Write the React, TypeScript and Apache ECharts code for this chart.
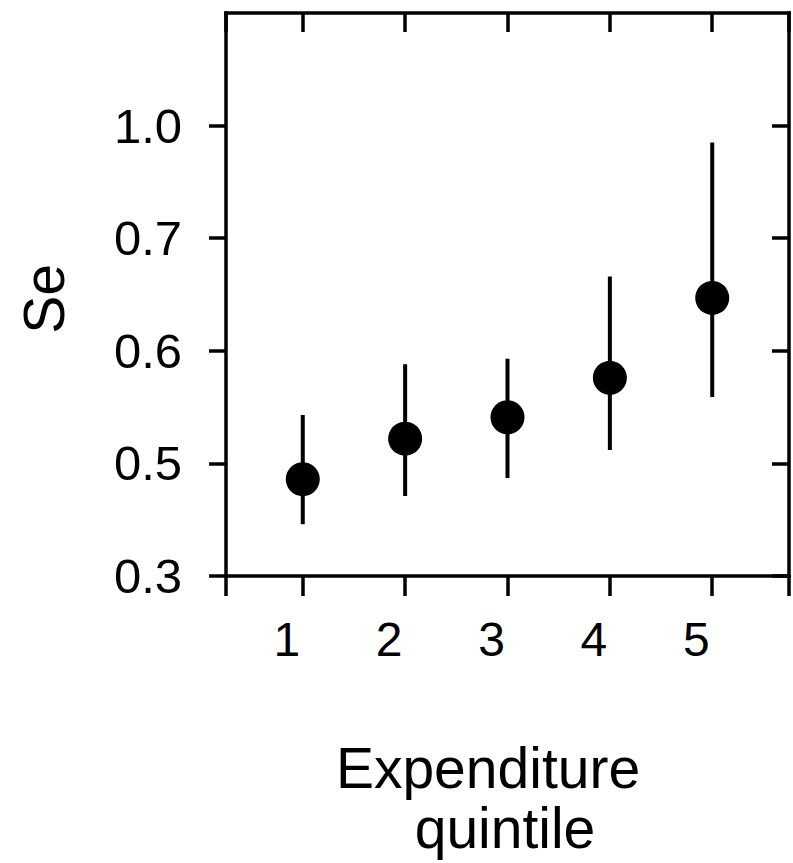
import React, { useEffect, useRef } from "react";
import * as echarts from "echarts";

const quintiles = [1, 2, 3, 4, 5];
const seMean = [0.472, 0.522, 0.541, 0.576, 0.647];
const seLow = [0.392, 0.442, 0.474, 0.512, 0.559];
const seHigh = [0.543, 0.588, 0.593, 0.666, 0.955];
const yTickLabels = [0.3, 0.5, 0.6, 0.7, 1.0];
const xTickLabels = ["1", "2", "3", "4", "5"];
const xTickPositions = [0.25, 1, 2, 3, 4, 5, 5.75];
const xTitle1 = "Expenditure";
const xTitle2 = "quintile";
const yTitle = "Se";

// piecewise-linear position of a value on the (irregular) y scale
function toPos(v: number): number {
  const t = yTickLabels;
  for (let i = 0; i < t.length - 1; i++) {
    if (v <= t[i + 1] || i === t.length - 2) {
      return i + (v - t[i]) / (t[i + 1] - t[i]);
    }
  }
  return 0;
}

const FONT = "Liberation Sans, Arial, sans-serif";

function mkLine() {
  return { show: true, onZero: false, lineStyle: { color: "#000", width: 3.5, cap: "square" } };
}
function mkTick() {
  return { color: "#000", width: 3.5 };
}

export default function App() {
  const ref = useRef<HTMLDivElement>(null);
  useEffect(() => {
    document.body.style.margin = "0";
    const chart = echarts.init(ref.current!, undefined, { renderer: "svg" });
    chart.setOption({
      animation: false,
      backgroundColor: "#fff",
      grid: { left: 226, top: 13, width: 563, height: 563, containLabel: false },
      xAxis: [
        {
          type: "value",
          position: "bottom",
          min: 0.25,
          max: 5.75,
          axisLine: mkLine(),
          splitLine: { show: false },
          axisTick: {
            show: true,
            inside: false,
            length: 20,
            lineStyle: mkTick(),
            customValues: xTickPositions,
          },
          axisLabel: {
            show: true,
            customValues: quintiles,
            margin: 39,
            formatter: (v: number) => `{a|${xTickLabels[Math.round(v) - 1]}}`,
            rich: {
              a: {
                fontSize: 48,
                fontFamily: FONT,
                color: "#000",
                padding: [0, 32, 0, 0],
              },
            },
          },
        },
        {
          type: "value",
          position: "top",
          min: 0.25,
          max: 5.75,
          axisLine: mkLine(),
          splitLine: { show: false },
          axisTick: {
            show: true,
            inside: true,
            length: 19,
            lineStyle: mkTick(),
            customValues: xTickPositions,
          },
          axisLabel: { show: false },
        },
      ],
      yAxis: [
        {
          type: "value",
          position: "left",
          min: 0,
          max: 5,
          axisLine: mkLine(),
          splitLine: { show: false },
          axisTick: {
            show: true,
            inside: false,
            length: 17,
            lineStyle: mkTick(),
            customValues: [0, 1, 2, 3, 4],
          },
          axisLabel: {
            show: true,
            customValues: [0, 1, 2, 3, 4],
            margin: 44,
            fontSize: 49,
            fontFamily: FONT,
            color: "#000",
            formatter: (v: number) => yTickLabels[Math.round(v)].toFixed(1),
          },
        },
        {
          type: "value",
          position: "right",
          min: 0,
          max: 5,
          axisLine: mkLine(),
          splitLine: { show: false },
          axisTick: {
            show: true,
            inside: true,
            length: 17,
            lineStyle: mkTick(),
            customValues: [0, 1, 2, 3, 4],
          },
          axisLabel: { show: false },
        },
      ],
      series: [
        {
          type: "custom",
          xAxisIndex: 0,
          yAxisIndex: 0,
          encode: { x: 0, y: [1, 2] },
          data: quintiles.map((q, i) => [q, toPos(seLow[i]), toPos(seHigh[i])]),
          renderItem: (_params: any, api: any) => {
            const x = api.value(0);
            const p1 = api.coord([x, api.value(1)]);
            const p2 = api.coord([x, api.value(2)]);
            return {
              type: "line",
              shape: { x1: p1[0], y1: p1[1], x2: p2[0], y2: p2[1] },
              style: { stroke: "#000", lineWidth: 4 },
            };
          },
          z: 2,
        },
        {
          type: "scatter",
          xAxisIndex: 0,
          yAxisIndex: 0,
          symbol: "circle",
          symbolSize: 34,
          itemStyle: { color: "#000", opacity: 1 },
          emphasis: { disabled: true },
          data: quintiles.map((q, i) => [q, toPos(seMean[i])]),
          z: 3,
        },
      ],
      graphic: [
        {
          type: "text",
          x: 488,
          y: 768,
          style: {
            text: xTitle1,
            fontSize: 57,
            fontFamily: FONT,
            fill: "#000",
            textAlign: "center",
            textVerticalAlign: "middle",
          },
        },
        {
          type: "text",
          x: 505,
          y: 828,
          style: {
            text: xTitle2,
            fontSize: 57,
            fontFamily: FONT,
            fill: "#000",
            textAlign: "center",
            textVerticalAlign: "middle",
          },
        },
        {
          type: "text",
          x: 44,
          y: 299,
          rotation: Math.PI / 2,
          style: {
            text: yTitle,
            fontSize: 57,
            fontFamily: FONT,
            fill: "#000",
            textAlign: "center",
            textVerticalAlign: "middle",
          },
        },
      ],
    });
    return () => chart.dispose();
  }, []);
  return <div ref={ref} style={{ width: 793, height: 863 }} />;
}
